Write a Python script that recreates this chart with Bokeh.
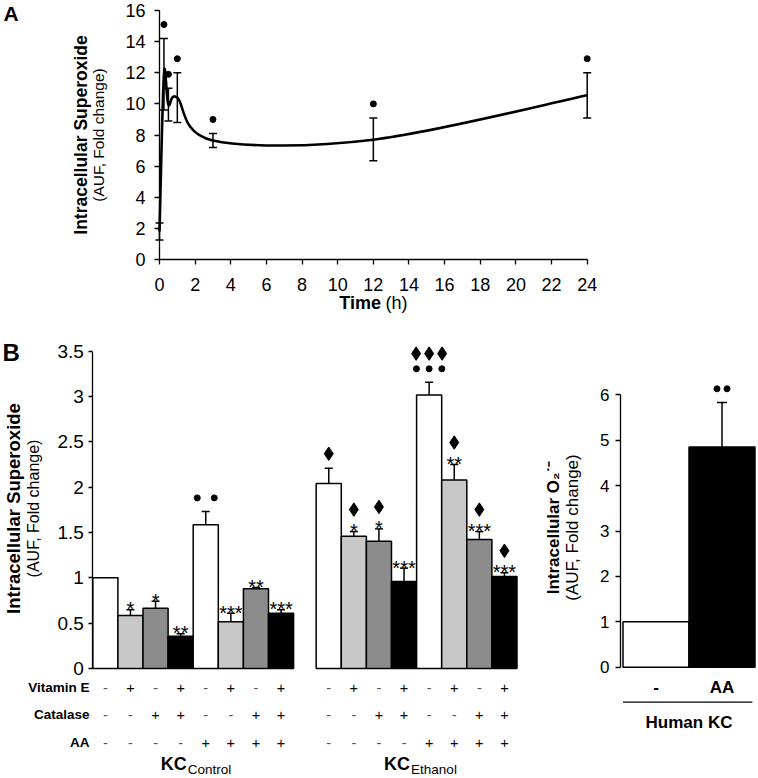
import numpy as np
from bokeh.plotting import figure
from bokeh.models import FixedTicker, Range1d
from bokeh.layouts import column, row
from bokeh.embed import file_html
from bokeh.resources import INLINE
from bokeh.core.properties import value

FONT = "Liberation Sans"

# ---------------- data: panel A (time course) ----------------
A_TIME = [0, 0.25, 0.5, 1, 3, 12, 24]
A_MEAN = [1.8, 11.9, 9.95, 10.4, 7.65, 7.7, 10.55]
A_UPPER = [2.35, 14.2, 11.0, 12.0, 8.1, 9.1, 12.0]
A_LOWER = [1.25, 9.6, 8.9, 8.8, 7.2, 6.35, 9.1]
A_SIGNIF = [False, True, True, True, True, True, True]
A_XTICKS = [0, 2, 4, 6, 8, 10, 12, 14, 16, 18, 20, 22, 24]
A_YTICKS = [0, 2, 4, 6, 8, 10, 12, 14, 16]

# ---------------- data: panel B (mouse KC) ----------------
B_CONTROL = [1.0, 0.585, 0.665, 0.357, 1.585, 0.515, 0.88, 0.61]
B_CONTROL_UPPER = [1.0, 0.648, 0.743, 0.383, 1.733, 0.61, 0.894, 0.648]
B_ETHANOL = [2.04, 1.46, 1.405, 0.96, 3.017, 2.08, 1.424, 1.015]
B_ETHANOL_UPPER = [2.21, 1.51, 1.54, 1.107, 3.157, 2.25, 1.51, 1.056]
B_CONTROL_STARS = ["", "*", "*", "**", "", "***", "**", "***"]
B_ETHANOL_STARS = ["", "*", "*", "***", "", "**", "***", "***"]
B_CONTROL_DOTS = [0, 0, 0, 0, 2, 0, 0, 0]
B_ETHANOL_DOTS = [0, 0, 0, 0, 3, 0, 0, 0]
B_CONTROL_DIAMONDS = [0, 0, 0, 0, 0, 0, 0, 0]
B_ETHANOL_DIAMONDS = [1, 1, 1, 0, 3, 1, 1, 1]
B_VITAMIN_E = ["-", "+", "-", "+", "-", "+", "-", "+"]
B_CATALASE = ["-", "-", "+", "+", "-", "-", "+", "+"]
B_AA = ["-", "-", "-", "-", "+", "+", "+", "+"]
B_ROW_NAMES = ["Vitamin E", "Catalase", "AA"]
B_GROUPS = ["Control", "Ethanol"]
B_YTICKS = [0, 0.5, 1, 1.5, 2, 2.5, 3, 3.5]
B_YTICK_LABELS = ["0", "0.5", "1", "1.5", "2", "2.5", "3", "3.5"]

# ---------------- data: panel C (human KC) ----------------
C_CATS = ["-", "AA"]
C_VALUES = [1.0, 4.85]
C_UPPER = [1.0, 5.83]
C_DOTS = [0, 2]
C_YTICKS = [0, 1, 2, 3, 4, 5, 6]

FILLS = ["white", "#c8c8c8", "#8c8c8c", "black"]


class Frame:
    """page-pixel <-> data mapping for a figure whose frame fills its canvas"""
    def __init__(self, L, T, W, H, px0, sx, py0, sy):
        self.L, self.T, self.W, self.H = L, T, W, H
        self.px0, self.sx, self.py0, self.sy = px0, sx, py0, sy

    def X(self, px):
        return (px - self.px0) / self.sx

    def Y(self, py):
        return (self.py0 - py) / self.sy

    def fig(self):
        p = figure(width=self.W, height=self.H,
                   x_range=Range1d(self.X(self.L), self.X(self.L + self.W)),
                   y_range=Range1d(self.Y(self.T + self.H), self.Y(self.T)),
                   output_backend="svg", toolbar_location=None,
                   min_border=0, min_border_left=0, min_border_right=0,
                   min_border_top=0, min_border_bottom=0)
        p.outline_line_color = None
        p.xgrid.visible = False
        p.ygrid.visible = False
        p.background_fill_color = "white"
        p.border_fill_color = "white"
        for ax in p.axis:
            ax.axis_line_color = "black"
            ax.axis_line_width = 1.3
            ax.major_tick_line_color = "black"
            ax.major_tick_line_width = 1.3
            ax.major_tick_in = 0
            ax.major_tick_out = 5
            ax.minor_tick_line_color = None
            ax.major_label_text_font = FONT
            ax.major_label_text_color = "black"
        return p


def txt(p, x, y, text, size, bold=False, align="center", baseline="middle",
        angle=0.0, color="black", font=FONT):
    xs = x if isinstance(x, list) else [x]
    ys = y if isinstance(y, list) else [y] * len(xs)
    ts = text if isinstance(text, list) else [text] * len(xs)
    cs = color if isinstance(color, list) else [color] * len(xs)
    p.text(x=xs, y=ys, text=ts, text_color=cs, angle=angle,
           text_font=value(font), text_font_size=value(f"{size}px"),
           text_font_style=value("bold" if bold else "normal"),
           text_align=value(align), text_baseline=value(baseline))


# ================= Panel A =================
FA = Frame(L=0, T=0, W=756, H=330, px0=159, sx=(586.7 - 159) / 24, py0=259, sy=(259 - 10) / 16)
pA = FA.fig()
pA.xaxis.fixed_location = 0
pA.yaxis.fixed_location = 0
pA.xaxis.bounds = (0, 24)
pA.yaxis.bounds = (0, 16)
pA.xaxis.ticker = FixedTicker(ticks=A_XTICKS)
pA.yaxis.ticker = FixedTicker(ticks=A_YTICKS)
pA.xaxis.major_label_text_font_size = "18px"
pA.yaxis.major_label_text_font_size = "18px"
pA.xaxis.major_label_standoff = 13
pA.yaxis.major_label_standoff = 9

# smoothed line (Catmull-Rom style bezier through the means)
n = len(A_TIME)
bx0, by0, bx1, by1, cx0, cy0, cx1, cy1 = ([] for _ in range(8))
for i in range(n - 1):
    i0 = i - 1 if i > 0 else i
    i3 = i + 2 if i + 2 < n else i + 1
    bx0.append(A_TIME[i]); by0.append(A_MEAN[i])
    bx1.append(A_TIME[i + 1]); by1.append(A_MEAN[i + 1])
    cx0.append(A_TIME[i] + (A_TIME[i + 1] - A_TIME[i0]) / 6.0)
    cy0.append(A_MEAN[i] + (A_MEAN[i + 1] - A_MEAN[i0]) / 6.0)
    cx1.append(A_TIME[i + 1] - (A_TIME[i3] - A_TIME[i]) / 6.0)
    cy1.append(A_MEAN[i + 1] - (A_MEAN[i3] - A_MEAN[i]) / 6.0)
pA.bezier(x0=bx0, y0=by0, x1=bx1, y1=by1, cx0=cx0, cy0=cy0, cx1=cx1, cy1=cy1,
          line_color="black", line_width=2.6)
pA.segment(A_TIME, A_LOWER, A_TIME, A_UPPER, line_color="black", line_width=1.5)
pA.scatter(A_TIME, A_UPPER, marker="dash", size=8, line_color="black", line_width=1.5)
pA.scatter(A_TIME, A_LOWER, marker="dash", size=8, line_color="black", line_width=1.5)
sig_t = [t for t, s in zip(A_TIME, A_SIGNIF) if s]
sig_y = [u + 14 / FA.sy for u, s in zip(A_UPPER, A_SIGNIF) if s]
pA.scatter(sig_t, sig_y, marker="circle", size=6, fill_color="black", line_color="black")

txt(pA, FA.X(3), FA.Y(12.5), "A", 21, bold=True, align="left")
txt(pA, FA.X(80), FA.Y(134.5), "Intracellular Superoxide", 17.5, bold=True, angle=np.pi / 2)
txt(pA, FA.X(98), FA.Y(134.5), "(AUF, Fold change)", 15.5, angle=np.pi / 2)
txt(pA, FA.X(380.5), FA.Y(302), "Time", 18, bold=True, align="right")
txt(pA, FA.X(385), FA.Y(302), "(h)", 18, align="left")

# ================= Panel B =================
FB = Frame(L=0, T=330, W=535, H=447, px0=92.3, sx=25.1, py0=668, sy=(668 - 350.7) / 3.5)
pB = FB.fig()
pB.xaxis.visible = False
pB.yaxis.fixed_location = 0
pB.yaxis.bounds = (0, 3.5)
pB.yaxis.ticker = FixedTicker(ticks=B_YTICKS)
pB.yaxis.major_label_overrides = {float(t): l for t, l in zip(B_YTICKS, B_YTICK_LABELS)}
pB.yaxis.major_label_text_font_size = "19px"
pB.yaxis.major_label_standoff = 5
pB.yaxis.major_tick_out = 4

xc = [i + 0.5 for i in range(8)]
xe = [8.9 + i + 0.5 for i in range(8)]
groups = [(xc, B_CONTROL, B_CONTROL_UPPER, B_CONTROL_STARS, B_CONTROL_DOTS, B_CONTROL_DIAMONDS),
          (xe, B_ETHANOL, B_ETHANOL_UPPER, B_ETHANOL_STARS, B_ETHANOL_DOTS, B_ETHANOL_DIAMONDS)]
dots_x, dots_y, dia_x, dia_y = [], [], [], []
for xs, vals, ups, stars, ndots, ndia in groups:
    cols = [FILLS[i % 4] for i in range(len(xs))]
    pB.segment(xs, vals, xs, ups, line_color="black", line_width=1.5)
    pB.scatter(xs, ups, marker="dash", size=8, line_color="black", line_width=1.5)
    pB.vbar(x=xs, width=1.0, top=vals, bottom=0, fill_color=cols, line_color="black", line_width=1.5)
    txt(pB, xs, [u + 0.5 / FB.sy for u in ups], stars, 20, baseline="alphabetic")
    for x, u, s, nd, ndi in zip(xs, ups, stars, ndots, ndia):
        cur = 7.6 if s else 0.0
        if nd:
            sp = 17.0 if nd == 2 else 12.7
            for k in range(nd):
                dots_x.append(x + (k - (nd - 1) / 2) * sp / FB.sx)
                dots_y.append(u + (cur + 13.5) / FB.sy)
            cur += 14.3
        if ndi:
            for k in range(ndi):
                dia_x.append(x + (k - (ndi - 1) / 2) * 13.0 / FB.sx)
                dia_y.append(u + (cur + 14.4) / FB.sy)
pB.scatter(dots_x, dots_y, marker="circle", size=6, fill_color="black", line_color="black")
pB.scatter(dia_x, dia_y, marker="diamond", size=13.5, fill_color="black", line_color="black")

# treatment table
rows_vals = [B_VITAMIN_E, B_CATALASE, B_AA]
rows_py = [687.3, 714.3, 742.3]
for vals, py in zip(rows_vals, rows_py):
    tx, tt, tc = [], [], []
    for xs in (xc, xe):
        for x, v in zip(xs, vals):
            tx.append(x); tt.append(v)
            tc.append("black" if v == "+" else "#555555")
    txt(pB, tx, FB.Y(py), tt, 14.5, color=tc)
for name, py in zip(B_ROW_NAMES, rows_py):
    txt(pB, FB.X(89), FB.Y(py), name, 13.5, bold=True, align="right")
for xs, g in ((xc, B_GROUPS[0]), (xe, B_GROUPS[1])):
    gx = (xs[0] + xs[-1]) / 2 - 6.5 / FB.sx
    txt(pB, gx, FB.Y(763.5), "KC", 18, bold=True, align="right")
    txt(pB, gx + 1 / FB.sx, FB.Y(768.5), g, 13.5, align="left")

txt(pB, FB.X(2), FB.Y(352), "B", 24, bold=True, align="left")
txt(pB, FB.X(13), FB.Y(508), "Intracellular Superoxide", 18.5, bold=True, angle=np.pi / 2)
txt(pB, FB.X(33), FB.Y(508), "(AUF, Fold change)", 16, angle=np.pi / 2)

# ================= Panel C =================
FC = Frame(L=535, T=330, W=221, H=447, px0=622.5, sx=66.0, py0=666.7, sy=(666.7 - 394.3) / 6)
pC = FC.fig()
pC.xaxis.visible = False
pC.yaxis.fixed_location = FC.X(620)
pC.yaxis.bounds = (0, 6)
pC.yaxis.ticker = FixedTicker(ticks=C_YTICKS)
pC.yaxis.major_label_text_font_size = "17px"
pC.yaxis.major_label_standoff = 6
cx = [i + 0.5 for i in range(len(C_CATS))]
pC.segment(cx, C_VALUES, cx, C_UPPER, line_color="black", line_width=1.5)
pC.scatter(cx, C_UPPER, marker="dash", size=10, line_color="black", line_width=1.5)
pC.vbar(x=cx, width=1.0, top=C_VALUES, bottom=0, fill_color=["white", "black"],
        line_color="black", line_width=1.5)
cdx, cdy = [], []
for x, u, nd in zip(cx, C_UPPER, C_DOTS):
    for k in range(nd):
        cdx.append(x + (k - (nd - 1) / 2) * 10.0 / FC.sx)
        cdy.append(u + 13.7 / FC.sy)
pC.scatter(cdx, cdy, marker="circle", size=6, fill_color="black", line_color="black")
txt(pC, cx, FC.Y(686.7), C_CATS, 17, bold=True)
pC.segment([cx[0] - 0.5], [FC.Y(701.7)], [cx[-1] + 0.46], [FC.Y(701.7)], line_color="black", line_width=1.3)
txt(pC, (cx[0] + cx[-1]) / 2, FC.Y(721.7), "Human KC", 17, bold=True)
txt(pC, FC.X(553), FC.Y(527), "Intracellular O\u2082\u02d9\u207b", 17, bold=True, angle=np.pi / 2)
txt(pC, FC.X(572), FC.Y(527), "(AUF, Fold change)", 17, angle=np.pi / 2)

layout = column(pA, row(pB, pC))
open("out.html", "w").write(file_html(layout, INLINE))
